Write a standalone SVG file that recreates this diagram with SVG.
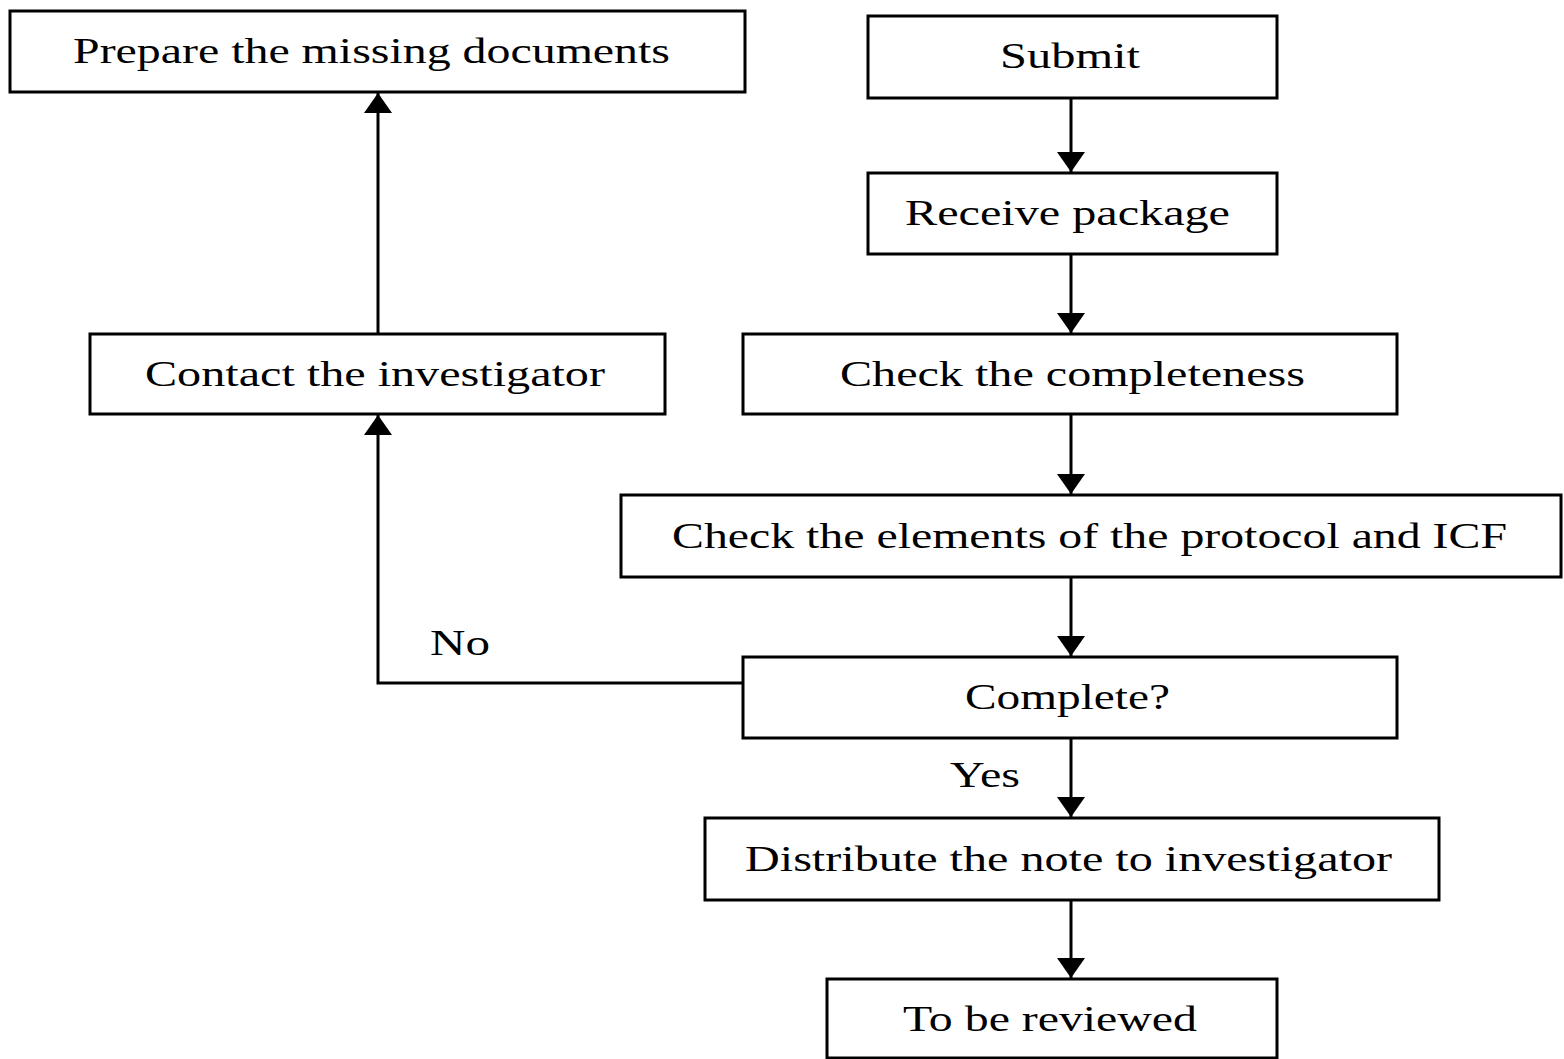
<svg xmlns="http://www.w3.org/2000/svg" width="1564" height="1059" viewBox="0 0 1564 1059">
<defs>
<style>
rect.box{fill:#fff;stroke:#000;stroke-width:3}
text{font-family:"Liberation Serif","Times New Roman",serif;font-size:35px;fill:#000}
.conn path{fill:none;stroke:#000;stroke-width:3}
</style>
<marker id="ah" markerUnits="userSpaceOnUse" markerWidth="20" markerHeight="28" viewBox="0 0 20 28" refX="20" refY="14" orient="auto">
<path d="M0,0 L20,14 L0,28 Z" fill="#000"/>
</marker>
</defs>
<rect width="1564" height="1059" fill="#fff"/>
<g class="conn" id="connectors">
<path d="M1071,98 V172" marker-end="url(#ah)"/>
<path d="M1071,254 V333" marker-end="url(#ah)"/>
<path d="M1071,414 V494" marker-end="url(#ah)"/>
<path d="M1071,577 V656" marker-end="url(#ah)"/>
<path d="M1071,738 V817" marker-end="url(#ah)"/>
<path d="M1071,900 V978" marker-end="url(#ah)"/>
<path d="M743,683 H378 V415" marker-end="url(#ah)"/>
<path d="M378,334 V93" marker-end="url(#ah)"/>
<text x="430" y="655" textLength="60" lengthAdjust="spacingAndGlyphs">No</text>
<text x="950" y="787" textLength="70" lengthAdjust="spacingAndGlyphs">Yes</text>
</g>
<g id="n_prepare"><rect class="box" x="10" y="11" width="735" height="81"/><text x="73" y="63" textLength="597" lengthAdjust="spacingAndGlyphs">Prepare the missing documents</text></g>
<g id="n_submit"><rect class="box" x="868" y="16" width="409" height="82"/><text x="1000" y="68" textLength="140" lengthAdjust="spacingAndGlyphs">Submit</text></g>
<g id="n_receive"><rect class="box" x="868" y="173" width="409" height="81"/><text x="905" y="225" textLength="325" lengthAdjust="spacingAndGlyphs">Receive package</text></g>
<g id="n_completeness"><rect class="box" x="743" y="334" width="654" height="80"/><text x="840" y="386" textLength="465" lengthAdjust="spacingAndGlyphs">Check the completeness</text></g>
<g id="n_elements"><rect class="box" x="621" y="495" width="940" height="82"/><text x="672" y="548" textLength="835" lengthAdjust="spacingAndGlyphs">Check the elements of the protocol and ICF</text></g>
<g id="n_complete"><rect class="box" x="743" y="657" width="654" height="81"/><text x="965" y="709" textLength="205" lengthAdjust="spacingAndGlyphs">Complete?</text></g>
<g id="n_distribute"><rect class="box" x="705" y="818" width="734" height="82"/><text x="745" y="871" textLength="647" lengthAdjust="spacingAndGlyphs">Distribute the note to investigator</text></g>
<g id="n_review"><rect class="box" x="827" y="979" width="450" height="79"/><text x="903" y="1031" textLength="294" lengthAdjust="spacingAndGlyphs">To be reviewed</text></g>
<g id="n_contact"><rect class="box" x="90" y="334" width="575" height="80"/><text x="145" y="386" textLength="460" lengthAdjust="spacingAndGlyphs">Contact the investigator</text></g>
</svg>
